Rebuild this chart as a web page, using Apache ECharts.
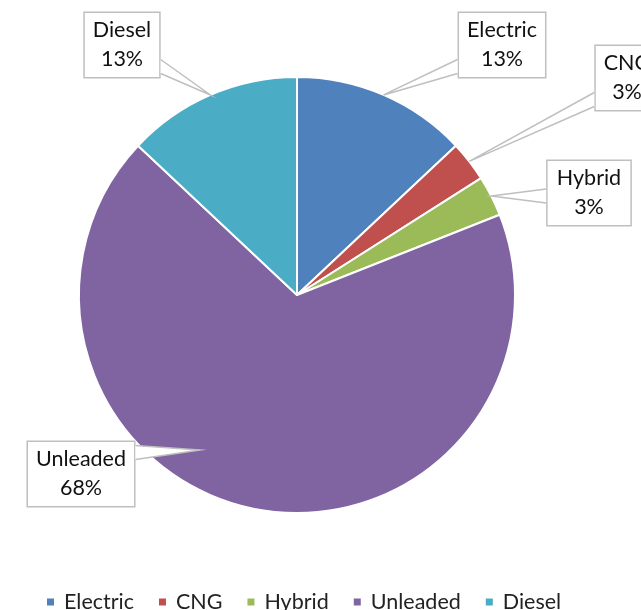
<!DOCTYPE html>
<html>
<head>
<meta charset="utf-8">
<script src="https://cdn.jsdelivr.net/npm/echarts@6/dist/echarts.min.js"></script>
<style>html,body{margin:0;padding:0;background:#fff}#c{width:641px;height:610px}</style>
</head>
<body>
<div id="c"></div>
<script>
const categories = ['Electric', 'CNG', 'Hybrid', 'Unleaded', 'Diesel'];
const values = [13, 3, 3, 68, 13];
const colors = ['#4F81BD', '#C0504D', '#9BBB59', '#8064A2', '#4BACC6'];

// label box centres and callout anchor overrides (layout only)
const labelCentres = [[502, 45], [627, 78], [589, 193], [81, 474], [122, 45]];
const anchorOverride = { 3: [200, 450] };

const chart = echarts.init(document.getElementById('c'));
const FONT = 'Lato, "Open Sans", sans-serif';

// callout wedge: two points on the box side facing the anchor, meeting at the anchor
function wedge(anchor, cx, cy, w, h) {
  const x0 = cx - w / 2, x1 = cx + w / 2, y0 = cy - h / 2, y1 = cy + h / 2;
  const half = 7, margin = 12;
  const clamp = (v, a, b) => Math.min(Math.max(v, a), b);
  if (anchor[0] < x0 || anchor[0] > x1) {
    const sx = anchor[0] < x0 ? x0 : x1;
    const my = clamp(anchor[1], y0 + margin, y1 - margin);
    return [[sx, my - half], anchor, [sx, my + half]];
  }
  const sy = anchor[1] < y0 ? y0 : y1;
  const mx = clamp(anchor[0], x0 + margin, x1 - margin);
  return [[mx - half, sy], anchor, [mx + half, sy]];
}

const wedges = {};

chart.setOption({
  animation: false,
  color: colors,
  legend: {
    top: 586,
    left: 40,
    icon: 'rect',
    itemWidth: 9,
    itemHeight: 9,
    itemGap: 23,
    textStyle: { fontFamily: FONT, fontSize: 21.5, color: '#222', padding: [0, 0, 0, 4] },
    data: categories
  },
  series: [{
    type: 'pie',
    center: [297, 295],
    radius: 218,
    startAngle: 90,
    clockwise: true,
    itemStyle: { borderColor: '#fff', borderWidth: 2 },
    label: {
      show: true,
      formatter: '{b}\n{d}%',
      fontFamily: FONT,
      fontSize: 21.5,
      color: '#111',
      lineHeight: 29,
      align: 'center',
      backgroundColor: '#fff',
      borderColor: '#bfbfbf',
      borderWidth: 1.5,
      padding: [4, 8, 2, 8]
    },
    labelLine: { show: false },
    labelLayout: function (p) {
      const c = labelCentres[p.dataIndex];
      const anchor = anchorOverride[p.dataIndex] || p.labelLinePoints[0];
      wedges[p.dataIndex] = wedge(anchor, c[0], c[1], p.labelRect.width, p.labelRect.height);
      return { x: c[0], y: c[1], align: 'center', verticalAlign: 'middle' };
    },
    data: categories.map((n, i) => ({ name: n, value: values[i] }))
  }]
});

chart.setOption({
  graphic: Object.keys(wedges).map(k => ({
    type: 'polyline',
    z: 100,
    shape: { points: wedges[k] },
    style: { fill: '#fff', stroke: '#bfbfbf', lineWidth: 1.5 }
  }))
});
</script>
</body>
</html>
